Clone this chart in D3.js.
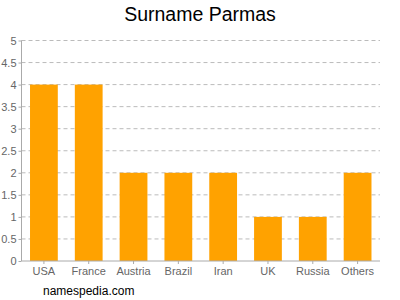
<!DOCTYPE html>
<html>
<head>
<meta charset="utf-8">
<script src="https://cdn.jsdelivr.net/npm/d3@7"></script>
<style>
  body { margin: 0; background: #fff; }
  text { font-family: "Liberation Sans", Arial, sans-serif; }
</style>
</head>
<body>
<div id="canvas"></div>
<script>
// --- data
var countries = ["USA", "France", "Austria", "Brazil", "Iran", "UK", "Russia", "Others"];
var counts = [4, 4, 2, 2, 2, 1, 1, 2];
var yTicks = [0, 0.5, 1, 1.5, 2, 2.5, 3, 3.5, 4, 4.5, 5];

var W = 400, H = 300;
var M = {top: 40.5, right: 20, bottom: 39, left: 21.5};
var w = W - M.left - M.right,
    h = H - M.top - M.bottom;

var svg = d3.select('#canvas')
  .append('svg')
  .attr('width', W)
  .attr('height', H);

var plot = svg.append('g')
  .attr('transform', 'translate(' + M.left + ',' + M.top + ')');

// --- scales
var x = d3.scaleBand()
  .domain(countries)
  .range([0, w])
  .paddingInner(0.38)
  .paddingOuter(0.19);

var y = d3.scaleLinear()
  .domain([0, 5])
  .range([h, 0]);

// --- grid
plot.selectAll('line.grid')
  .data(yTicks.filter(function(d){ return d > 0; }))
  .enter().append('line')
  .attr('class', 'grid')
  .attr('x1', 0)
  .attr('x2', w)
  .attr('y1', function(d){ return y(d); })
  .attr('y2', function(d){ return y(d); })
  .attr('stroke', '#bbb')
  .attr('stroke-dasharray', '4,3')
  .attr('stroke-width', 1);

// --- bars
plot.selectAll('rect.bar')
  .data(counts)
  .enter().append('rect')
  .attr('class', 'bar')
  .attr('x', function(d, i){ return x(countries[i]); })
  .attr('y', function(d){ return y(d); })
  .attr('width', x.bandwidth())
  .attr('height', function(d){ return h - y(d); })
  .attr('fill', '#ffa200');

// --- axes
var yAxis = d3.axisLeft(y).tickValues(yTicks).tickSize(3).tickPadding(2)
  .tickFormat(function(d){ return d; });
var gy = plot.append('g').call(yAxis);
gy.select('.domain').attr('stroke', '#aaa').attr('d', 'M0,' + h + 'V0');
gy.selectAll('.tick line').attr('stroke', '#aaa');
gy.selectAll('.tick text').attr('fill', '#666').attr('font-size', '11px');

var xAxis = d3.axisBottom(x).tickSize(3).tickPadding(3);
var gx = plot.append('g').attr('transform', 'translate(0,' + h + ')').call(xAxis);
gx.select('.domain').attr('stroke', '#aaa').attr('d', 'M0,0H' + w);
gx.selectAll('.tick line').attr('stroke', '#aaa');
gx.selectAll('.tick text').attr('fill', '#666').attr('font-size', '11px');

// --- title
svg.append('text')
  .attr('x', W / 2)
  .attr('y', 21)
  .attr('text-anchor', 'middle')
  .attr('font-size', '19.5px')
  .attr('fill', '#000')
  .text('Surname Parmas');

svg.append('text')
  .attr('x', 43)
  .attr('y', 295)
  .attr('font-size', '12px')
  .attr('fill', '#000')
  .text('namespedia.com');
</script>
</body>
</html>
